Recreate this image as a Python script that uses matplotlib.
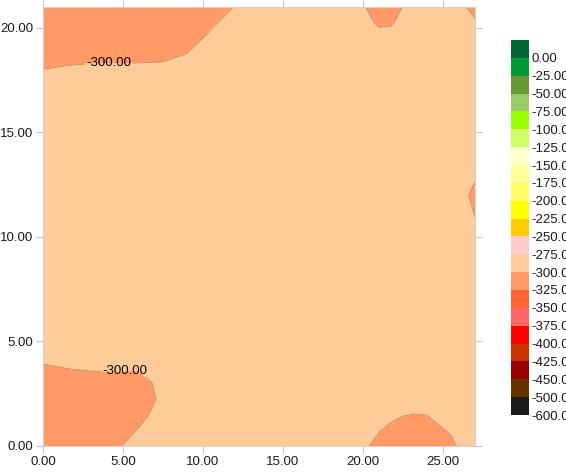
import numpy as np
import matplotlib
matplotlib.use("Agg")
import matplotlib.pyplot as plt
from matplotlib.colors import ListedColormap, BoundaryNorm

plt.rcParams['font.family'] = ['Liberation Sans', 'DejaVu Sans']

# Grid coordinates
x_vals = [0, 1.5, 3, 4.5, 6, 7.5, 9, 10.5, 12, 13.5, 15, 16.5, 18, 19.5,
          20.25, 21, 21.75, 22.5, 23.25, 24, 25.5, 27]
y_vals = [0, 1.5, 2.25, 3, 4.5, 6, 7.5, 9, 10.5, 12, 13.5, 15, 16.5, 18, 19.5, 20.25, 21]

# Field values (rows = y, columns = x)
z_rows = [
    [-320, -320, -319, -302.5, -293.2, -283.4, -280, -280, -280, -280, -280, -280, -280, -292, -298.75, -305, -309.7, -313.5, -315, -314.5, -303.2, -289],
    [-320, -320, -320, -314.2, -304.6, -293.6, -281, -280, -280, -280, -280, -280, -280, -283, -288.4, -293.5, -296.7, -299.3, -300.3, -299.7, -294, -284],
    [-316.7, -314.5, -313.3, -313.1, -310, -295.9, -281.5, -280, -280, -280, -280, -280, -280, -280, -283, -286.4, -290, -291.8, -292.8, -292.2, -287.1, -280],
    [-309.2, -307, -305.8, -305.6, -306.5, -294.7, -281, -280, -280, -280, -280, -280, -280, -280, -280, -281, -283, -284, -285.3, -285, -281, -280],
    [-294.2, -292, -290.8, -290.6, -290.9, -285.7, -280, -280, -280, -280, -280, -280, -280, -280, -280, -280, -280, -280, -280, -280, -280, -280],
    [-280, -280, -280, -280, -280, -280, -280, -280, -280, -280, -280, -280, -280, -280, -280, -280, -280, -280, -280, -280, -280, -280],
    [-280, -280, -280, -280, -280, -280, -280, -280, -280, -280, -280, -280, -280, -280, -280, -280, -280, -280, -280, -280, -280, -280],
    [-280, -280, -280, -280, -280, -280, -280, -280, -280, -280, -280, -280, -280, -280, -280, -280, -280, -280, -280, -280, -280, -280],
    [-280, -280, -280, -280, -280, -280, -280, -280, -280, -280, -280, -280, -280, -280, -280, -280, -280, -280, -280, -280, -283, -298.4],
    [-280, -280, -280, -280, -280, -280, -280, -280, -280, -280, -280, -280, -280, -280, -280, -280, -280, -280, -280, -280, -290, -303.6],
    [-280, -280, -280, -280, -280, -280, -280, -280, -280, -280, -280, -280, -280, -280, -280, -280, -280, -280, -280, -280, -284, -295.3],
    [-280, -280, -280, -280, -280, -280, -280, -280, -280, -280, -280, -280, -280, -280, -280, -280, -280, -280, -280, -280, -280, -280],
    [-285, -283, -282, -282, -281.7, -281.3, -280, -280, -280, -280, -280, -280, -280, -280, -280, -280, -280, -280, -280, -280, -280, -280],
    [-299.8, -298, -297, -297, -296.7, -296.3, -293.5, -285, -280, -280, -280, -280, -280, -280, -280, -281, -280.5, -280, -280, -280, -280, -280],
    [-315, -313, -312, -312, -311.7, -311.3, -306, -296.8, -287.5, -280, -280, -280, -280, -287.2, -291.7, -295.7, -294.5, -291.4, -285.7, -281, -282.5, -293],
    [-320, -320, -319.5, -319.5, -319.2, -318.8, -311.9, -302.7, -293.5, -282.3, -280, -280, -280, -290.6, -297.5, -301.8, -301.5, -295.8, -289, -282.3, -288.3, -298.5],
    [-320, -320, -320, -320, -320, -320, -317.9, -308.6, -299.4, -284, -280, -280, -280, -293.6, -300.4, -307.4, -305.8, -299.5, -291.5, -284, -293, -304.2],
]

# Colour scale (value boundaries, high to low) and colours of each band
level_values = [25, 0, -25, -50, -75, -100, -125, -150, -175, -200, -225, -250,
                -275, -300, -325, -350, -375, -400, -425, -450, -500, -600]
band_colors = ['#006633', '#009933', '#669933', '#99CC66', '#99FF00', '#CCFF66',
               '#FFFFCC', '#FFFF99', '#FFFF66', '#FFFF00', '#FFCC00', '#FFCCCC',
               '#FFCC99', '#FF9966', '#FF6633', '#FF6666', '#FF0000', '#CC3300',
               '#990000', '#663300', '#1A1A1A']
label_level = -300

x_ticks = [0, 5, 10, 15, 20, 25]
y_ticks = [0, 5, 10, 15, 20]

X, Y = np.meshgrid(np.array(x_vals), np.array(y_vals))
Z = np.array(z_rows)

bounds = sorted(level_values)
cmap = ListedColormap(band_colors[::-1])
norm = BoundaryNorm(bounds, cmap.N)

fig = plt.figure(figsize=(5.66, 4.76), dpi=100)
ax = fig.add_axes([43 / 566, 30 / 476, 432 / 566, 439 / 476])

cf = ax.contourf(X, Y, Z, levels=bounds, cmap=cmap, norm=norm)
cs = ax.contour(X, Y, Z, levels=[label_level], colors=['#c98560'],
                linewidths=0.6, linestyles='solid')
labels = ax.clabel(cs, fmt='%.2f', manual=[(4.1, 18.3), (5.1, 3.6)], fontsize=9.5,
                   colors='black', inline=True, inline_spacing=1)
for t in labels:
    t.set_rotation(0)

ax.set_xlim(0, 27)
ax.set_ylim(0, 21)
ax.set_xticks(x_ticks)
ax.set_yticks(y_ticks)
ax.set_xticklabels([f'{v:.2f}' for v in x_ticks])
ax.set_yticklabels([f'{v:.2f}' for v in y_ticks])
ax.tick_params(axis='both', direction='out', length=5, width=0.8, color='#c8c8c8',
               labelsize=9.5, labelcolor='#1a1a1a', top=True, right=True,
               labeltop=False, labelright=False, pad=2)
for sp in ax.spines.values():
    sp.set_color('#d0d0d0')
    sp.set_linewidth(0.8)

cax = fig.add_axes([511 / 566, 61 / 476, 18 / 566, 375 / 476])
cb = fig.colorbar(cf, cax=cax, boundaries=bounds, spacing='uniform')
cb.outline.set_visible(False)
cb.set_ticks(bounds[:-1])
cb.set_ticklabels([f'{v:.2f}' for v in bounds[:-1]])
cb.ax.minorticks_off()
cax.xaxis.set_visible(False)
cax.tick_params(axis='y', length=0, labelsize=9.5, pad=2, labelcolor='#1a1a1a')

fig.savefig('out.png', dpi=100)
